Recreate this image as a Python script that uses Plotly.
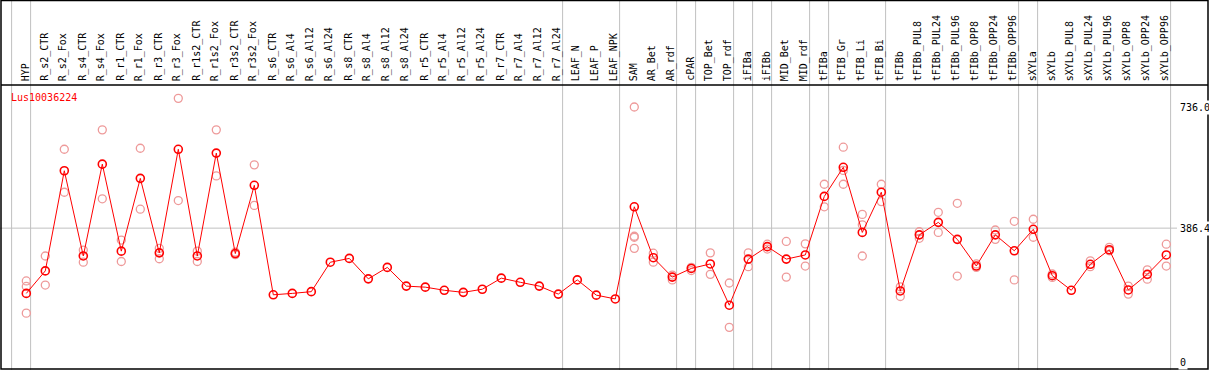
import plotly.graph_objects as go

labels = ["HYP", "R_s2_CTR", "R_s2_Fox", "R_s4_CTR", "R_s4_Fox", "R_r1_CTR", "R_r1_Fox",
          "R_r3_CTR", "R_r3_Fox", "R_r1s2_CTR", "R_r1s2_Fox", "R_r3s2_CTR", "R_r3s2_Fox",
          "R_s6_CTR", "R_s6_Al4", "R_s6_Al12", "R_s6_Al24", "R_s8_CTR", "R_s8_Al4", "R_s8_Al12",
          "R_s8_Al24", "R_r5_CTR", "R_r5_Al4", "R_r5_Al12", "R_r5_Al24", "R_r7_CTR", "R_r7_Al4",
          "R_r7_Al12", "R_r7_Al24", "LEAF_N", "LEAF_P", "LEAF_NPK", "SAM", "AR_Bet", "AR_rdf",
          "cPAR", "TOP_Bet", "TOP_rdf", "iFIBa", "iFIBb", "MID_Bet", "MID_rdf", "tFIBa",
          "tFIB_Gr", "tFIB_Li", "tFIB_Bi", "tFIBb", "tFIBb_PUL8", "tFIBb_PUL24", "tFIBb_PUL96",
          "tFIBb_OPP8", "tFIBb_OPP24", "tFIBb_OPP96", "sXYLa", "sXYLb", "sXYLb_PUL8",
          "sXYLb_PUL24", "sXYLb_PUL96", "sXYLb_OPP8", "sXYLb_OPP24", "sXYLb_OPP96"]

means = [198, 263, 552, 306, 571, 320, 530, 315, 614, 306, 603, 313, 510,
         194, 198, 203, 288, 299, 240, 273, 219, 216, 207, 201, 210, 242, 230, 219, 196,
         237, 193, 182, 448, 301, 245, 270, 283, 164, 297, 333, 297, 309, 478, 562, 374,
         490, 205, 367, 403, 354, 277, 367, 321, 383, 249, 207, 282, 324, 208, 253, 309]

replicates = [[234, 218, 141], [306, 222], [614, 490], [323, 288], [670, 471], [352, 290],
              [617, 441], [328, 298], [761, 466], [320, 290], [670, 537], [317, 310], [569, 452],
              [], [], [], [], [], [], [], [], [], [], [], [], [], [], [], [], [], [], [],
              [736, 363, 360, 328], [314, 288], [251, 237], [273, 264], [315, 253], [228, 100],
              [315, 275], [340, 326], [348, 245], [341, 277], [513, 448], [620, 553, 513],
              [426, 396, 306], [513, 463], [217, 189], [376, 357], [432, 374], [458, 248],
              [283, 273], [381, 354], [406, 237], [412, 360], [254, 244], [], [292, 275],
              [331, 321], [219, 196], [266, 239], [340, 277]]

separators_after = [-1, 0, 28, 31, 34, 35, 37, 38, 39, 41, 42, 45, 52, 53, 60]
gene = "Lus10036224"
axis_labels = [(736.0, "736.0"), (386.4, "386.4"), (0, "0")]
ref_line = 386.4

W, H = 1209, 370
x0px, dx = 26.3, 19.0
y0px, yscale = 362.0, 255.0 / 736.0

xr = [-x0px / dx, (W - x0px) / dx]
yr = [-(H - y0px) / yscale, y0px / yscale]

def px_x(p):
    return p / W

def px_y(p):
    return 1 - p / H

mono = "DejaVu Sans Mono"
fig = go.Figure()

rx, ry = [], []
for i, r in enumerate(replicates):
    for v in r:
        rx.append(i)
        ry.append(v)
fig.add_trace(go.Scatter(x=rx, y=ry, mode="markers",
                         marker=dict(symbol="circle-open", size=8, color="#ee9a9a",
                                     line=dict(width=1.3, color="#ee9a9a")),
                         hoverinfo="skip", showlegend=False))
fig.add_trace(go.Scatter(x=list(range(len(means))), y=means, mode="lines+markers",
                         line=dict(color="#ff0000", width=1),
                         marker=dict(symbol="circle-open", size=8, color="#ff0000",
                                     line=dict(width=1.6, color="#ff0000")),
                         showlegend=False))

shapes = []
for s in separators_after:
    xs = s + 4.3 / dx
    shapes.append(dict(type="line", xref="x", yref="paper", x0=xs, x1=xs, y0=0, y1=1,
                       line=dict(color="#c0c0c0", width=1), layer="below"))
shapes.append(dict(type="line", xref="paper", yref="y", x0=0, x1=px_x(1177),
                   y0=ref_line, y1=ref_line, line=dict(color="#c0c0c0", width=1), layer="below"))
shapes.append(dict(type="line", xref="paper", yref="paper", x0=px_x(1), x1=px_x(1208),
                   y0=px_y(85), y1=px_y(85), line=dict(color="black", width=1.5)))
shapes.append(dict(type="rect", xref="paper", yref="paper", x0=px_x(1), x1=px_x(1208),
                   y0=px_y(369), y1=px_y(0.5), line=dict(color="black", width=1.5)))

ann = []
for i, lab in enumerate(labels):
    ann.append(dict(x=i, y=px_y(83), xref="x", yref="paper", text=lab, textangle=-90,
                    showarrow=False, xanchor="center", yanchor="bottom", xshift=-1,
                    font=dict(family=mono, size=10, color="black")))
ann.append(dict(x=px_x(9), y=px_y(97.5), xref="paper", yref="paper", text=gene,
                showarrow=False, xanchor="left", yanchor="middle",
                font=dict(family=mono, size=10, color="#ff0000")))
for v, t in axis_labels:
    ann.append(dict(x=px_x(1178), y=v, xref="paper", yref="y", text=t, showarrow=False,
                    xanchor="left", yanchor="middle", bgcolor="white",
                    font=dict(family=mono, size=10, color="black")))

fig.update_layout(width=W, height=H, margin=dict(l=0, r=0, t=0, b=0),
                  plot_bgcolor="white", paper_bgcolor="white",
                  xaxis=dict(range=xr, visible=False, fixedrange=True),
                  yaxis=dict(range=yr, visible=False, fixedrange=True),
                  shapes=shapes, annotations=ann)

fig.write_html("out.html", config={"displayModeBar": False},
               post_script="document.body.style.margin='0';document.body.style.padding='0';"
                           "document.body.style.overflow='hidden';")
